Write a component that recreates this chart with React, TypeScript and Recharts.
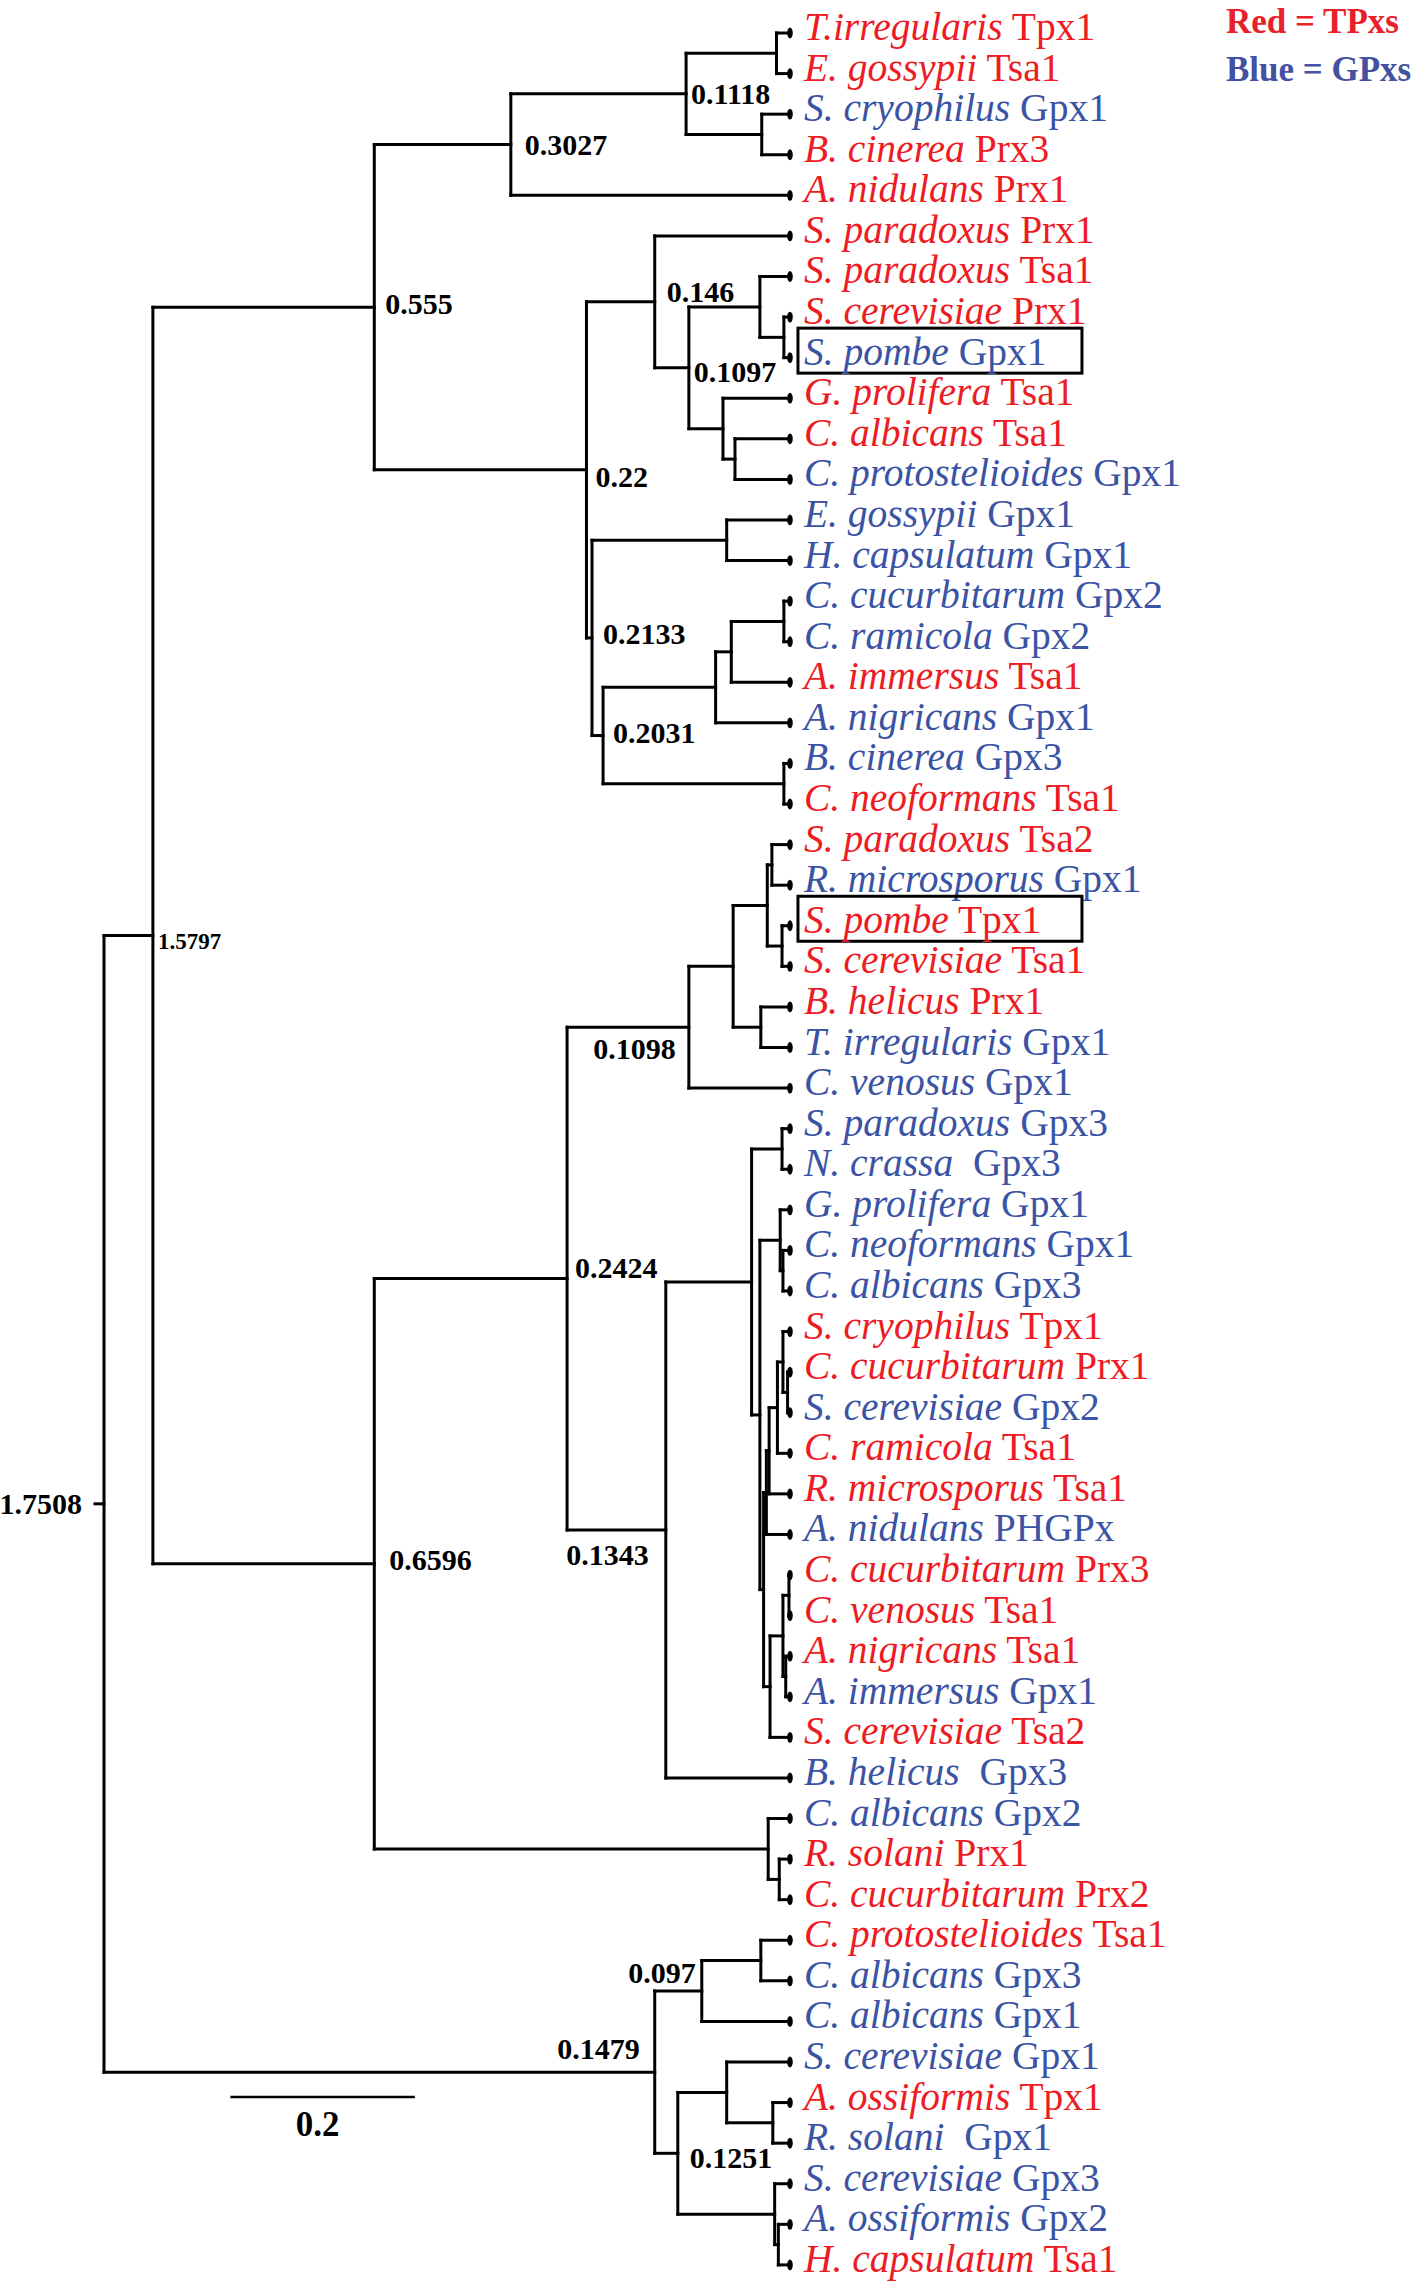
import React from "react";
import { ComposedChart, XAxis, YAxis, Scatter, ReferenceLine } from "recharts";

// leaf labels, top to bottom
const leafSpecies = [
  "T.irregularis", "E. gossypii", "S. cryophilus", "B. cinerea", "A. nidulans",
  "S. paradoxus", "S. paradoxus", "S. cerevisiae", "S. pombe", "G. prolifera",
  "C. albicans", "C. protostelioides", "E. gossypii", "H. capsulatum", "C. cucurbitarum",
  "C. ramicola", "A. immersus", "A. nigricans", "B. cinerea", "C. neoformans",
  "S. paradoxus", "R. microsporus", "S. pombe", "S. cerevisiae", "B. helicus",
  "T. irregularis", "C. venosus", "S. paradoxus", "N. crassa ", "G. prolifera",
  "C. neoformans", "C. albicans", "S. cryophilus", "C. cucurbitarum", "S. cerevisiae",
  "C. ramicola", "R. microsporus", "A. nidulans", "C. cucurbitarum", "C. venosus",
  "A. nigricans", "A. immersus", "S. cerevisiae", "B. helicus ", "C. albicans",
  "R. solani", "C. cucurbitarum", "C. protostelioides", "C. albicans", "C. albicans",
  "S. cerevisiae", "A. ossiformis", "R. solani ", "S. cerevisiae", "A. ossiformis",
  "H. capsulatum",
];
const leafGenes = [
  "Tpx1", "Tsa1", "Gpx1", "Prx3", "Prx1",
  "Prx1", "Tsa1", "Prx1", "Gpx1", "Tsa1",
  "Tsa1", "Gpx1", "Gpx1", "Gpx1", "Gpx2",
  "Gpx2", "Tsa1", "Gpx1", "Gpx3", "Tsa1",
  "Tsa2", "Gpx1", "Tpx1", "Tsa1", "Prx1",
  "Gpx1", "Gpx1", "Gpx3", "Gpx3", "Gpx1",
  "Gpx1", "Gpx3", "Tpx1", "Prx1", "Gpx2",
  "Tsa1", "Tsa1", "PHGPx", "Prx3", "Tsa1",
  "Tsa1", "Gpx1", "Tsa2", "Gpx3", "Gpx2",
  "Prx1", "Prx2", "Tsa1", "Gpx3", "Gpx1",
  "Gpx1", "Tpx1", "Gpx1", "Gpx3", "Gpx2",
  "Tsa1",
];
const leafParents = [
  "E", "E", "F", "F", "C", "G", "J", "K", "K", "L",
  "M", "M", "O", "O", "S", "S", "R", "Q", "T", "T",
  "Z", "Z", "AA", "AA", "AB", "AB", "W", "AE", "AE", "AG",
  "AH", "AH", "BA", "BB", "BB", "BC", "BE", "BD", "CA", "CA",
  "CC", "CC", "CD", "AC", "AJ", "AJ2", "AJ2", "AM", "AM", "AL",
  "AO", "AP", "AP", "AQ", "AR", "AR",
];
const boxedLeaves = [8, 22];
const leafDepth = 0.7436;

// internal nodes: [id, parent, depth from root]
const cladeNodes: [string, string, number][] = [
  ["root", "", 0], ["A", "root", 0.053], ["B", "A", 0.293], ["C", "B", 0.441],
  ["D", "C", 0.631], ["E", "D", 0.729], ["F", "D", 0.713], ["I", "B", 0.523],
  ["G", "I", 0.597], ["H", "G", 0.634], ["J", "H", 0.711], ["K", "J", 0.737],
  ["L", "H", 0.671], ["M", "L", 0.684], ["N", "I", 0.529], ["O", "N", 0.675],
  ["P", "N", 0.541], ["Q", "P", 0.663], ["R", "Q", 0.68], ["S", "R", 0.737],
  ["T", "P", 0.737], ["U", "A", 0.293], ["V", "U", 0.502], ["W", "V", 0.634],
  ["X", "W", 0.682], ["Y", "X", 0.719], ["Z", "Y", 0.724], ["AA", "Y", 0.735],
  ["AB", "X", 0.712], ["AC", "V", 0.609], ["AD", "AC", 0.702], ["AE", "AD", 0.735],
  ["AF", "AD", 0.711], ["AG", "AF", 0.733], ["AH", "AG", 0.736], ["CE", "AF", 0.715],
  ["BD", "CE", 0.718], ["BE", "BD", 0.721], ["BC", "BE", 0.73], ["BA", "BC", 0.736],
  ["BB", "BA", 0.741], ["CD", "CE", 0.722], ["CB", "CD", 0.736], ["CA", "CB", 0.7425],
  ["CC", "CB", 0.739], ["AJ", "U", 0.72], ["AJ2", "AJ", 0.732], ["AK", "root", 0.597],
  ["AL", "AK", 0.648], ["AM", "AL", 0.712], ["AN", "AK", 0.622], ["AO", "AN", 0.675],
  ["AP", "AO", 0.725], ["AQ", "AN", 0.727], ["AR", "AQ", 0.731],
];

const supportNodes = ["root", "A", "B", "C", "D", "G", "H", "I", "N", "P", "U", "V", "W", "AC", "AK", "AL", "AN"];
const supportValues = ["1.7508", "1.5797", "0.555", "0.3027", "0.1118", "0.146", "0.1097", "0.22", "0.2133", "0.2031", "0.6596", "0.2424", "0.1098", "0.1343", "0.1479", "0.097", "0.1251"];

const scaleBarLength = 0.2;

// layout
const W = 1419;
const H = 2291;
const PX_PER_UNIT = 922.5;
const ROOT_PX = 104;
const LEAF0_PX = 33;
const LEAF_STEP = 40.58;
const xDomain: [number, number] = [-ROOT_PX / PX_PER_UNIT, (W - ROOT_PX) / PX_PER_UNIT];
const yDomain: [number, number] = [-LEAF0_PX / LEAF_STEP, (H - LEAF0_PX) / LEAF_STEP];
const SCALE_BAR_X = 0.137;
const SCALE_BAR_Y = 50.86;

const RED = "#ED1C24";
const BLUE = "#3A53A4";
const SERIF = "'Liberation Serif', 'Times New Roman', serif";

// [dx, dy, anchor, fontSize]
const supportPlacement: Record<string, [number, number, "start" | "end", number]> = {
  root: [-22, 10, "end", 30],
  A: [5, 14, "start", 23],
  B: [11, 7, "start", 30],
  C: [14, 10, "start", 30],
  D: [5, 10, "start", 30],
  G: [12, 0, "start", 30],
  H: [5, 14, "start", 30],
  I: [9, 17, "start", 30],
  N: [11, 6, "start", 30],
  P: [10, 7, "start", 30],
  U: [15, 6, "start", 30],
  V: [8, -1, "start", 30],
  W: [-13, 32, "end", 30],
  AC: [-17, 35, "end", 30],
  AK: [-15, -13, "end", 30],
  AL: [-6, -8, "end", 30],
  AN: [12, 15, "start", 30],
};

// build tree geometry
const depthOf: Record<string, number> = {};
cladeNodes.forEach(([id, , d]) => (depthOf[id] = d));
const childYs: Record<string, number[]> = {};
cladeNodes.forEach(([id]) => (childYs[id] = []));
leafParents.forEach((p, i) => childYs[p].push(i));

const nodeY: Record<string, number> = {};
const kids: Record<string, string[]> = {};
cladeNodes.forEach(([id, p]) => {
  if (p) (kids[p] = kids[p] || []).push(id);
});
function solveY(id: string): number {
  const ys = [...childYs[id], ...(kids[id] || []).map(solveY)];
  const lo = Math.min(...ys);
  const hi = Math.max(...ys);
  childYs[id] = [lo, hi];
  nodeY[id] = (lo + hi) / 2;
  return nodeY[id];
}
solveY("root");

type Seg = [{ x: number; y: number }, { x: number; y: number }];
const segments: Seg[] = [];
cladeNodes.forEach(([id, p, d]) => {
  const [lo, hi] = childYs[id];
  segments.push([{ x: d, y: lo }, { x: d, y: hi }]);
  if (p) segments.push([{ x: depthOf[p], y: nodeY[id] }, { x: d, y: nodeY[id] }]);
});
leafParents.forEach((p, i) => {
  segments.push([{ x: depthOf[p], y: i }, { x: leafDepth, y: i }]);
});
segments.push([{ x: -9 / PX_PER_UNIT, y: nodeY.root }, { x: 0, y: nodeY.root }]);

const leafData = leafSpecies.map((s, i) => ({
  x: leafDepth,
  y: i,
  species: s,
  gene: leafGenes[i],
  gpx: /gpx/i.test(leafGenes[i]),
  boxed: boxedLeaves.includes(i),
}));

const supportData = supportNodes.map((id, i) => ({
  x: depthOf[id],
  y: nodeY[id],
  id,
  value: supportValues[i],
}));

const scaleData = [{ x: SCALE_BAR_X + scaleBarLength / 2, y: SCALE_BAR_Y, value: String(scaleBarLength) }];

const LeafMark = (props: any) => {
  const { cx, cy, payload } = props;
  const color = payload.gpx ? BLUE : RED;
  return (
    <g>
      <ellipse cx={cx} cy={cy} rx={2.8} ry={5.4} fill="#000" />
      {payload.boxed && (
        <rect x={cx + 8} y={cy - 29.5} width={284} height={45} fill="none" stroke="#000" strokeWidth={3} />
      )}
      <text x={cx + 14} y={cy + 7} fontFamily={SERIF} fontSize={39.5} fill={color} style={{ whiteSpace: "pre" }}>
        <tspan fontStyle="italic">{payload.species}</tspan>
        <tspan>{" " + payload.gene}</tspan>
      </text>
    </g>
  );
};

const SupportMark = (props: any) => {
  const { cx, cy, payload } = props;
  const [dx, dy, anchor, size] = supportPlacement[payload.id];
  return (
    <text x={cx + dx} y={cy + dy} textAnchor={anchor} fontFamily={SERIF} fontWeight="bold" fontSize={size} fill="#000">
      {payload.value}
    </text>
  );
};

const ScaleMark = (props: any) => {
  const { cx, cy, payload } = props;
  return (
    <text x={cx - 5} y={cy + 39} textAnchor="middle" fontFamily={SERIF} fontWeight="bold" fontSize={35} fill="#000">
      {payload.value}
    </text>
  );
};

export default function App() {
  return (
    <div style={{ position: "relative", width: W, height: H, background: "#fff" }}>
      <style>{`body{margin:0}`}</style>
      <ComposedChart width={W} height={H} margin={{ top: 0, right: 0, bottom: 0, left: 0 }}>
        <XAxis type="number" dataKey="x" domain={xDomain} allowDataOverflow hide />
        <YAxis type="number" dataKey="y" domain={yDomain} allowDataOverflow reversed hide />
        {segments.map((s, i) => (
          <ReferenceLine key={i} segment={s} stroke="#000" strokeWidth={3} strokeLinecap="square" ifOverflow="visible" />
        ))}
        <ReferenceLine
          segment={[{ x: SCALE_BAR_X, y: SCALE_BAR_Y }, { x: SCALE_BAR_X + scaleBarLength, y: SCALE_BAR_Y }]}
          stroke="#000"
          strokeWidth={2.5}
          ifOverflow="visible"
        />
        <Scatter data={leafData} shape={LeafMark} isAnimationActive={false} />
        <Scatter data={supportData} shape={SupportMark} isAnimationActive={false} />
        <Scatter data={scaleData} shape={ScaleMark} isAnimationActive={false} />
      </ComposedChart>
      <div
        style={{
          position: "absolute",
          left: 1226,
          top: 0,
          fontFamily: SERIF,
          fontWeight: "bold",
          fontSize: 35,
          lineHeight: "44px",
        }}
      >
        <div style={{ color: "#E8202A" }}>Red = TPxs</div>
        <div style={{ color: "#4450A0", marginTop: 4 }}>Blue = GPxs</div>
      </div>
    </div>
  );
}
